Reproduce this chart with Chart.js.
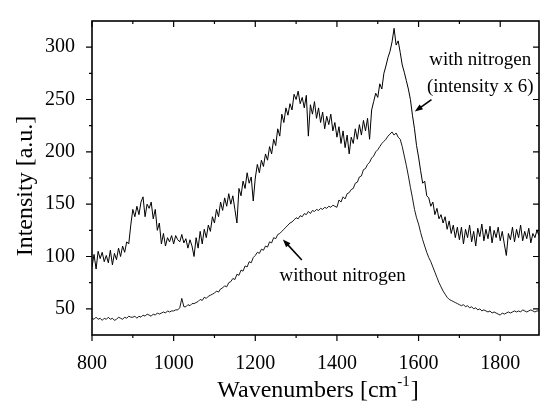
<!DOCTYPE html>
<html>
<head>
<meta charset="utf-8">
<script src="https://cdn.jsdelivr.net/npm/chart.js@4/dist/chart.umd.min.js"></script>
<style>
  html, body { margin: 0; padding: 0; background: #fff; }
  canvas { display: block; }
</style>
</head>
<body>
<canvas id="chart" width="540" height="403"></canvas>
<script>
// wavenumber grid [cm-1]
const wavenumbers = [
  800, 805, 810, 815, 820, 825, 830, 835, 840, 845, 850, 855, 860, 865, 870, 875, 880, 885, 890, 895,
  900, 905, 910, 915, 920, 925, 930, 935, 940, 945, 950, 955, 960, 965, 970, 975, 980, 985, 990, 995,
  1000, 1005, 1010, 1015, 1020, 1025, 1030, 1035, 1040, 1045, 1050, 1055, 1060, 1065, 1070, 1075, 1080, 1085, 1090, 1095,
  1100, 1105, 1110, 1115, 1120, 1125, 1130, 1135, 1140, 1145, 1150, 1155, 1160, 1165, 1170, 1175, 1180, 1185, 1190, 1195,
  1200, 1205, 1210, 1215, 1220, 1225, 1230, 1235, 1240, 1245, 1250, 1255, 1260, 1265, 1270, 1275, 1280, 1285, 1290, 1295,
  1300, 1305, 1310, 1315, 1320, 1325, 1330, 1335, 1340, 1345, 1350, 1355, 1360, 1365, 1370, 1375, 1380, 1385, 1390, 1395,
  1400, 1405, 1410, 1415, 1420, 1425, 1430, 1435, 1440, 1445, 1450, 1455, 1460, 1465, 1470, 1475, 1480, 1485, 1490, 1495,
  1500, 1505, 1510, 1515, 1520, 1525, 1530, 1535, 1540, 1545, 1550, 1555, 1560, 1565, 1570, 1575, 1580, 1585, 1590, 1595,
  1600, 1605, 1610, 1615, 1620, 1625, 1630, 1635, 1640, 1645, 1650, 1655, 1660, 1665, 1670, 1675, 1680, 1685, 1690, 1695,
  1700, 1705, 1710, 1715, 1720, 1725, 1730, 1735, 1740, 1745, 1750, 1755, 1760, 1765, 1770, 1775, 1780, 1785, 1790, 1795,
  1800, 1805, 1810, 1815, 1820, 1825, 1830, 1835, 1840, 1845, 1850, 1855, 1860, 1865, 1870, 1875, 1880, 1885, 1890, 1895
];

// with nitrogen (intensity x 6)
const withNitrogen = [
  90, 102, 88, 105, 98, 104, 95, 101, 94, 106, 92, 103, 97, 108, 100, 110, 104, 114, 112, 130,
  145, 138, 148, 140, 152, 157, 138, 150, 146, 152, 136, 145, 125, 132, 112, 122, 110, 118, 114, 120,
  112, 120, 116, 114, 121, 113, 117, 108, 116, 110, 100, 118, 108, 124, 112, 126, 118, 130, 124, 138,
  132, 145, 138, 152, 144, 156, 148, 160, 150, 158, 145, 132, 165, 158, 172, 165, 180, 170, 176, 153,
  175, 188, 180, 192, 186, 198, 192, 205, 198, 212, 206, 222, 215, 236, 228, 242, 235, 246, 240, 255,
  250, 258, 246, 252, 242, 254, 215, 245, 236, 248, 232, 242, 228, 238, 222, 234, 226, 236, 220, 228,
  214, 224, 208, 220, 204, 216, 198, 214, 208, 222, 212, 226, 216, 230, 220, 232, 212, 240, 248, 256,
  252, 265, 260, 275, 282, 290, 296, 305, 318, 302, 306, 295, 283, 276, 268, 260, 250, 235, 222, 206,
  195, 182, 170, 172, 158, 156, 148, 152, 140, 146, 136, 140, 132, 138, 126, 134, 122, 130, 118, 128,
  116, 128, 112, 126, 118, 130, 114, 124, 110, 127, 119, 131, 115, 126, 117, 129, 113, 125, 118, 128,
  115, 124, 112, 101, 122, 116, 128, 114, 126, 118, 130, 115, 124, 117, 127, 113, 122, 118, 125, 120
];

// without nitrogen
const withoutNitrogen = [
  41, 40, 42, 40, 41, 39, 41, 40, 42, 40, 41, 39, 40, 42, 41, 40, 42, 41, 43, 42,
  42, 43, 41, 43, 42, 44, 43, 45, 44, 43, 45, 44, 46, 45, 46, 47, 46, 48, 47, 48,
  48, 49, 49, 51, 60, 52, 52, 54, 53, 55, 55, 56, 57, 59, 58, 61, 60, 62, 63, 64,
  65, 67, 66, 69, 70, 72, 71, 75, 76, 79, 78, 83, 82, 87, 86, 91, 90, 95, 94, 99,
  101, 104, 103, 107, 106, 110, 109, 114, 113, 118, 117, 121, 122, 124, 126, 128, 130, 132, 133, 135,
  137, 136, 139, 138, 141, 140, 143, 141, 144, 143, 145, 144, 146, 145, 147, 146, 148, 147, 149, 148,
  147, 154, 152, 157, 155, 160, 161, 164, 165, 170, 171, 176, 177, 183, 184, 188, 190, 194, 196, 200,
  202, 205, 208, 210, 212, 215, 217, 219, 216, 218, 214, 212, 205, 196, 187, 177, 166, 156, 145, 137,
  131, 123, 116, 110, 104, 99, 95, 90, 85, 80, 75, 71, 67, 64, 61, 59, 58, 57, 56, 55,
  54, 53, 54, 52, 53, 51, 52, 50, 51, 49, 50, 48, 49, 48, 47, 48, 46, 47, 46, 45,
  44, 46, 45, 46, 47, 46, 47, 48, 47, 48, 47, 49, 48, 47, 48, 49, 48, 47, 48, 48
];

const xTickValues = [800, 1000, 1200, 1400, 1600, 1800];
const xMinorTicks = [900, 1100, 1300, 1500, 1700];
const yTickValues = [50, 100, 150, 200, 250, 300];
const yMinorTicks = [75, 125, 175, 225, 275];

// labels inside the plot, placed in data units
const notes = [
  { text: 'with nitrogen', x: 1751, y: 282.6 },
  { text: '(intensity x 6)', x: 1751, y: 257.5 },
  { text: 'without nitrogen', x: 1414, y: 76.3 }
];
const arrows = [
  { from: [1631.6, 249.8], to: [1590.7, 238.5] },
  { from: [1314, 96.7], to: [1267.6, 116.3] }
];

const FONT = "'Liberation Serif', 'Times New Roman', 'DejaVu Serif', serif";
Chart.defaults.font.family = FONT;
Chart.defaults.color = '#000';

const framePlugin = {
  id: 'frame',
  afterDraw(chart) {
    const { ctx, chartArea: a, scales: { x, y } } = chart;
    ctx.save();
    ctx.strokeStyle = '#000';
    ctx.fillStyle = '#000';

    // box
    ctx.lineWidth = 1.6;
    ctx.strokeRect(a.left, a.top, a.right - a.left, a.bottom - a.top);

    // ticks: outward on bottom/left, inward on top/right
    ctx.lineWidth = 1.2;
    ctx.beginPath();
    const xt = (v, len) => {
      const p = x.getPixelForValue(v);
      ctx.moveTo(p, a.bottom); ctx.lineTo(p, a.bottom + len);
      ctx.moveTo(p, a.top); ctx.lineTo(p, a.top + len);
    };
    const yt = (v, len) => {
      const p = y.getPixelForValue(v);
      ctx.moveTo(a.left, p); ctx.lineTo(a.left - len, p);
      ctx.moveTo(a.right, p); ctx.lineTo(a.right - len, p);
    };
    xTickValues.forEach(v => xt(v, 6));
    xMinorTicks.forEach(v => xt(v, 3));
    yTickValues.forEach(v => yt(v, 6));
    yMinorTicks.forEach(v => yt(v, 3));
    ctx.stroke();

    // notes
    ctx.font = '19px ' + FONT;
    ctx.textAlign = 'center';
    ctx.textBaseline = 'alphabetic';
    notes.forEach(n => ctx.fillText(n.text, x.getPixelForValue(n.x), y.getPixelForValue(n.y)));

    // arrows
    arrows.forEach(ar => {
      const x0 = x.getPixelForValue(ar.from[0]), y0 = y.getPixelForValue(ar.from[1]);
      const x1 = x.getPixelForValue(ar.to[0]), y1 = y.getPixelForValue(ar.to[1]);
      const ang = Math.atan2(y1 - y0, x1 - x0);
      ctx.lineWidth = 1.6;
      ctx.beginPath();
      ctx.moveTo(x0, y0);
      ctx.lineTo(x1 - 5 * Math.cos(ang), y1 - 5 * Math.sin(ang));
      ctx.stroke();
      ctx.beginPath();
      ctx.moveTo(x1, y1);
      ctx.lineTo(x1 - 8 * Math.cos(ang) + 3 * Math.sin(ang), y1 - 8 * Math.sin(ang) - 3 * Math.cos(ang));
      ctx.lineTo(x1 - 8 * Math.cos(ang) - 3 * Math.sin(ang), y1 - 8 * Math.sin(ang) + 3 * Math.cos(ang));
      ctx.closePath();
      ctx.fill();
    });

    // x title with superscript
    const cx = (a.left + a.right) / 2 + 2;
    const base = a.bottom + 62;
    const big = '24px ' + FONT, small = '15px ' + FONT;
    ctx.textAlign = 'left';
    ctx.font = big;
    const w1 = ctx.measureText('Wavenumbers [cm').width;
    const w3 = ctx.measureText(']').width;
    ctx.font = small;
    const w2 = ctx.measureText('-1').width;
    let sx = cx - (w1 + w2 + w3) / 2;
    ctx.font = big;
    ctx.fillText('Wavenumbers [cm', sx, base);
    ctx.font = small;
    ctx.fillText('-1', sx + w1, base - 11);
    ctx.font = big;
    ctx.fillText(']', sx + w1 + w2 + 1, base);

    // y title
    ctx.save();
    ctx.translate(32, (a.top + a.bottom) / 2 + 8);
    ctx.rotate(-Math.PI / 2);
    ctx.textAlign = 'center';
    ctx.font = big;
    ctx.fillText('Intensity [a.u.]', 0, 0);
    ctx.restore();

    ctx.restore();
  }
};

const ctx = document.getElementById('chart').getContext('2d');
const chart = new Chart(ctx, {
  type: 'line',
  data: {
    datasets: [{
      label: 'with nitrogen (intensity x 6)',
      data: wavenumbers.map((w, i) => ({ x: w, y: withNitrogen[i] })),
      borderColor: '#000',
      borderWidth: 1,
      pointRadius: 0,
      tension: 0
    }, {
      label: 'without nitrogen',
      data: wavenumbers.map((w, i) => ({ x: w, y: withoutNitrogen[i] })),
      borderColor: '#000',
      borderWidth: 0.9,
      pointRadius: 0,
      tension: 0
    }]
  },
  options: {
    responsive: false,
    animation: false,
    devicePixelRatio: 1,
    layout: { padding: { top: 13, right: 1, left: 0, bottom: 0 } },
    plugins: { legend: { display: false }, tooltip: { enabled: false } },
    scales: {
      x: {
        type: 'linear',
        min: 800,
        max: 1895,
        grid: { display: false },
        border: { display: false },
        afterBuildTicks: s => { s.ticks = xTickValues.map(v => ({ value: v })); },
        afterFit: s => { s.height = 68; },
        ticks: { font: { size: 20 }, padding: 9, maxRotation: 0, callback: v => String(v) }
      },
      y: {
        min: 25,
        max: 325,
        grid: { display: false },
        border: { display: false },
        afterBuildTicks: s => { s.ticks = yTickValues.map(v => ({ value: v })); },
        afterFit: s => { s.width = 92; },
        ticks: { font: { size: 20 }, padding: 9, callback: v => String(v) }
      }
    }
  },
  plugins: [framePlugin]
});
</script>
</body>
</html>
